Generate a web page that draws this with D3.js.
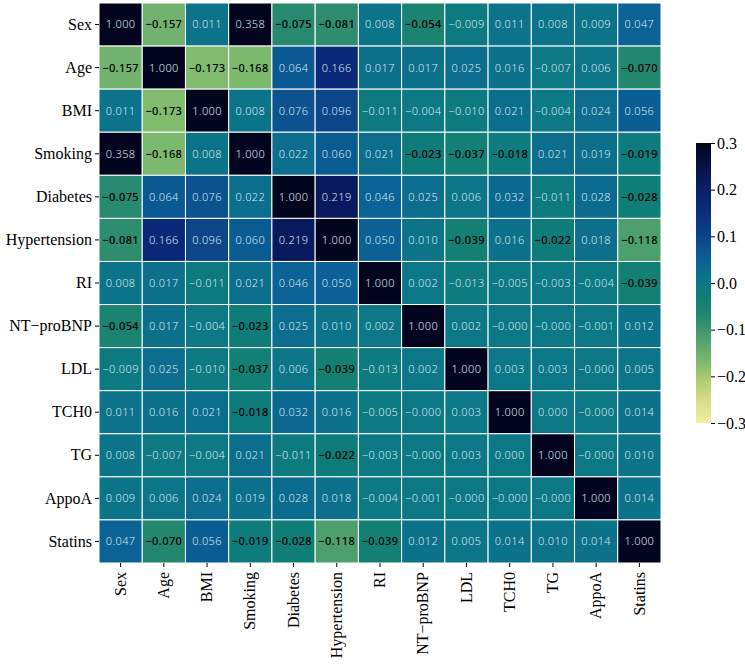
<!DOCTYPE html>
<html>
<head>
<meta charset="utf-8">
<script src="https://cdn.jsdelivr.net/npm/d3@7"></script>
<style>
  html, body { margin: 0; padding: 0; background: #fff; }
  svg { display: block; }
</style>
</head>
<body>
<svg id="chart" width="745" height="665"></svg>
<script>
const variables = ["Sex","Age","BMI","Smoking","Diabetes","Hypertension","RI","NT\u2212proBNP","LDL","TCH0","TG","AppoA","Statins"];

const rowSex          = [1.000,-0.157, 0.011, 0.358,-0.075,-0.081, 0.008,-0.054,-0.009, 0.011, 0.008, 0.009, 0.047];
const rowAge          = [-0.157,1.000,-0.173,-0.168, 0.064, 0.166, 0.017, 0.017, 0.025, 0.016,-0.007, 0.006,-0.070];
const rowBMI          = [0.011,-0.173, 1.000, 0.008, 0.076, 0.096,-0.011,-0.004,-0.010, 0.021,-0.004, 0.024, 0.056];
const rowSmoking      = [0.358,-0.168, 0.008, 1.000, 0.022, 0.060, 0.021,-0.023,-0.037,-0.018, 0.021, 0.019,-0.019];
const rowDiabetes     = [-0.075,0.064, 0.076, 0.022, 1.000, 0.219, 0.046, 0.025, 0.006, 0.032,-0.011, 0.028,-0.028];
const rowHypertension = [-0.081,0.166, 0.096, 0.060, 0.219, 1.000, 0.050, 0.010,-0.039, 0.016,-0.022, 0.018,-0.118];
const rowRI           = [0.008, 0.017,-0.011, 0.021, 0.046, 0.050, 1.000, 0.002,-0.013,-0.005,-0.003,-0.004,-0.039];
const rowNTproBNP     = [-0.054,0.017,-0.004,-0.023, 0.025, 0.010, 0.002, 1.000, 0.002,-0.000,-0.000,-0.001, 0.012];
const rowLDL          = [-0.009,0.025,-0.010,-0.037, 0.006,-0.039,-0.013, 0.002, 1.000, 0.003, 0.003,-0.000, 0.005];
const rowTCH0         = [0.011, 0.016, 0.021,-0.018, 0.032, 0.016,-0.005,-0.000, 0.003, 1.000, 0.000,-0.000, 0.014];
const rowTG           = [0.008,-0.007,-0.004, 0.021,-0.011,-0.022,-0.003,-0.000, 0.003, 0.000, 1.000,-0.000, 0.010];
const rowAppoA        = [0.009, 0.006, 0.024, 0.019, 0.028, 0.018,-0.004,-0.001,-0.000,-0.000,-0.000, 1.000, 0.014];
const rowStatins      = [0.047,-0.070, 0.056,-0.019,-0.028,-0.118,-0.039, 0.012, 0.005, 0.014, 0.010, 0.014, 1.000];

const matrix = [rowSex,rowAge,rowBMI,rowSmoking,rowDiabetes,rowHypertension,rowRI,rowNTproBNP,rowLDL,rowTCH0,rowTG,rowAppoA,rowStatins];

const colorbarTicks = [-0.3,-0.2,-0.1,0.0,0.1,0.2,0.3];

// colormap stops
const cmapStops  = [-0.3,     -0.25,    -0.2,     -0.17,    -0.12,    -0.07,    -0.03,    0.0,      0.05,     0.1,      0.166,    0.22,     0.3];
const cmapColors = ["#f0f0a2","#d5dd85","#a8c86c","#7cba6e","#50a06e","#23876e","#0f7e76","#0c7886","#0b6196","#0c4488","#0a2878","#081a5c","#03051e"];

const svg = d3.select("#chart");
const serif = "'Liberation Serif','Times New Roman',serif";

const x = d3.scaleBand().domain(variables).range([99, 661]);
const y = d3.scaleBand().domain(variables).range([3, 563]);
const color = d3.scaleLinear().domain(cmapStops).range(cmapColors).clamp(true);

const cells = [];
matrix.forEach((row, i) => row.forEach((v, j) => cells.push({r: variables[i], c: variables[j], v})));

function fmt(v) {
  const neg = v < 0 || Object.is(v, -0);
  return (neg ? "\u2212" : "") + Math.abs(v).toFixed(3);
}

const g = svg.append("g");
g.selectAll("rect.cell").data(cells).join("rect")
  .attr("class", "cell")
  .attr("x", d => x(d.c))
  .attr("y", d => y(d.r))
  .attr("width", x.bandwidth())
  .attr("height", y.bandwidth())
  .attr("fill", d => color(d.v))
  .attr("stroke", "#fff")
  .attr("stroke-width", 1);

g.selectAll("text.ann").data(cells).join("text")
  .attr("class", "ann")
  .attr("x", d => x(d.c) + x.bandwidth() / 2)
  .attr("y", d => y(d.r) + y.bandwidth() / 2)
  .attr("dy", "0.36em")
  .attr("text-anchor", "middle")
  .attr("font-family", "'Noto Sans','DejaVu Sans',sans-serif")
  .attr("font-size", 11)
  .attr("letter-spacing", 0.4)
  .attr("fill", d => d.v < -0.015 ? "#000" : "#d5e6ee")
  .attr("font-weight", d => d.v < -0.015 ? 500 : 300)
  .text(d => fmt(d.v));

// axes
const yAxis = svg.append("g").attr("transform", "translate(99,0)")
  .call(d3.axisLeft(y).tickSize(4).tickPadding(3));
yAxis.select(".domain").remove();
yAxis.selectAll("text").attr("font-family", serif).attr("font-size", 16).attr("fill", "#000");

const xAxis = svg.append("g").attr("transform", "translate(0,563)")
  .call(d3.axisBottom(x).tickSize(4).tickPadding(3));
xAxis.select(".domain").remove();
xAxis.selectAll("text")
  .attr("font-family", serif).attr("font-size", 16).attr("fill", "#000")
  .attr("transform", "rotate(-90)")
  .attr("text-anchor", "end")
  .attr("x", -9).attr("y", 0).attr("dy", "0.32em");

// colorbar
const cbX = 696, cbW = 15, cbTop = 143, cbBot = 423;
const cbScale = d3.scaleLinear().domain([-0.3, 0.3]).range([cbBot, cbTop]);
const defs = svg.append("defs");
const grad = defs.append("linearGradient").attr("id", "cbgrad")
  .attr("x1", 0).attr("y1", 1).attr("x2", 0).attr("y2", 0);
grad.selectAll("stop").data(cmapStops).join("stop")
  .attr("offset", d => (d + 0.3) / 0.6)
  .attr("stop-color", d => color(d));
svg.append("rect")
  .attr("x", cbX).attr("y", cbTop).attr("width", cbW).attr("height", cbBot - cbTop)
  .attr("fill", "url(#cbgrad)");
const cbAxis = svg.append("g").attr("transform", `translate(${cbX + cbW},0)`)
  .call(d3.axisRight(cbScale).tickValues(colorbarTicks).tickFormat(d3.format(".1f")).tickSize(4).tickPadding(2));
cbAxis.select(".domain").remove();
cbAxis.selectAll("text").attr("font-family", serif).attr("font-size", 16).attr("fill", "#000");
</script>
</body>
</html>
